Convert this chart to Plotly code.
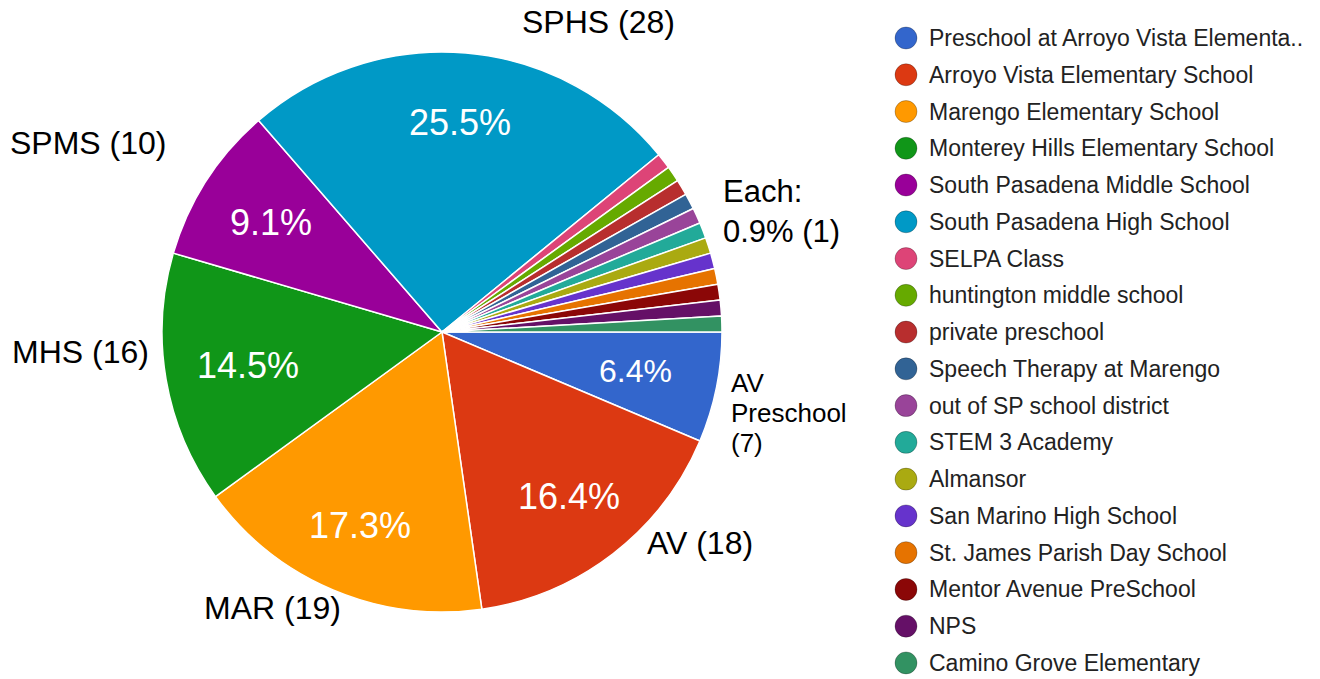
import math
import plotly.graph_objects as go

# ---- data ----
schools = [
    "Preschool at Arroyo Vista Elementa..",
    "Arroyo Vista Elementary School",
    "Marengo Elementary School",
    "Monterey Hills Elementary School",
    "South Pasadena Middle School",
    "South Pasadena High School",
    "SELPA Class",
    "huntington middle school",
    "private preschool",
    "Speech Therapy at Marengo",
    "out of SP school district",
    "STEM 3 Academy",
    "Almansor",
    "San Marino High School",
    "St. James Parish Day School",
    "Mentor Avenue PreSchool",
    "NPS",
    "Camino Grove Elementary",
]
counts = [7, 18, 19, 16, 10, 28, 1, 1, 1, 1, 1, 1, 1, 1, 1, 1, 1, 1]
short_names = ["AV Preschool", "AV", "MAR", "MHS", "SPMS", "SPHS"]
colors = [
    "#3366cc", "#dc3912", "#ff9900", "#109618", "#990099", "#0099c6",
    "#dd4477", "#66aa00", "#b82e2e", "#316395", "#994499", "#22aa99",
    "#aaaa11", "#6633cc", "#e67300", "#8b0707", "#651067", "#329262",
]

W, H = 1320, 679
FONT = "Liberation Sans, Arial, Helvetica, sans-serif"

# pie geometry (pixels)
cx, cy, R = 442, 332, 280

fig = go.Figure()
fig.add_trace(go.Pie(
    labels=schools,
    values=counts,
    sort=False,
    direction="clockwise",
    rotation=90,
    marker=dict(colors=colors, line=dict(color="white", width=1.5)),
    textinfo="none",
    showlegend=False,
    hoverinfo="label+value+percent",
    domain=dict(x=[(cx - R) / W, (cx + R) / W],
                y=[1 - (cy + R) / H, 1 - (cy - R) / H]),
))

annotations = []
shapes = []

# percentage labels inside the big slices, placed at each slice's mid-angle
total = sum(counts)
n_big = len(short_names)
cum = 0.0
for i, v in enumerate(counts):
    mid = (cum + v / 2) / total * 2 * math.pi  # clockwise from 3 o'clock
    cum += v
    if i >= n_big:
        continue
    # labels near the horizontal sit a little closer to the centre
    r = R * (0.75 - 0.05 * abs(math.cos(mid)) ** 4)
    px = cx + r * math.cos(mid)
    py = cy + r * math.sin(mid)
    size = 32 if v / total < 0.08 else 36
    annotations.append(dict(
        x=px / W, y=1 - py / H, xref="paper", yref="paper",
        text=f"{v / total * 100:.1f}%", showarrow=False,
        xanchor="center", yanchor="middle",
        font=dict(size=size, color="white", family=FONT)))

# callout labels (built from data)
callouts = {
    "SPHS": (598, 22),
    "SPMS": (88, 143),
    "MHS": (80, 352),
    "MAR": (272, 608),
    "AV": (700, 543),
}
for name, v in zip(short_names, counts):
    if name in callouts:
        x, y = callouts[name]
        annotations.append(dict(
            x=x / W, y=1 - y / H, xref="paper", yref="paper",
            text=f"{name} ({v})", showarrow=False, xanchor="center", yanchor="middle",
            font=dict(size=32, color="black", family=FONT)))

# AV Preschool callout, stacked lines
avp_lines = ["AV", "Preschool", f"({counts[0]})"]
for i, line in enumerate(avp_lines):
    annotations.append(dict(
        x=729 / W, y=1 - (383 + 30 * i) / H, xref="paper", yref="paper",
        text=line, showarrow=False, xanchor="left", yanchor="middle",
        font=dict(size=26, color="black", family=FONT)))

# "Each" callout for the small slices
small_val = counts[-1]
small_pct = small_val / total * 100
each_lines = ["Each:", f"{small_pct:.1f}% ({small_val})"]
for i, line in enumerate(each_lines):
    annotations.append(dict(
        x=721 / W, y=1 - (191 + 40 * i) / H, xref="paper", yref="paper",
        text=line, showarrow=False, xanchor="left", yanchor="middle",
        font=dict(size=31, color="black", family=FONT)))

# custom legend with circle markers
leg_x_marker, leg_x_text, leg_y0, leg_dy = 906, 927, 38, 36.76
for i, (name, col) in enumerate(zip(schools, colors)):
    yc = leg_y0 + i * leg_dy
    shapes.append(dict(
        type="circle", xref="paper", yref="paper",
        xsizemode="pixel", ysizemode="pixel",
        xanchor=leg_x_marker / W, yanchor=1 - yc / H,
        x0=-11, x1=11, y0=-11, y1=11,
        fillcolor=col, line=dict(color="rgba(0,0,0,0.25)", width=1)))
    annotations.append(dict(
        x=leg_x_text / W, y=1 - yc / H, xref="paper", yref="paper",
        text=name, showarrow=False, xanchor="left", yanchor="middle",
        font=dict(size=23, color="#222222", family=FONT)))

fig.update_layout(
    width=W, height=H,
    margin=dict(l=0, r=0, t=0, b=0),
    paper_bgcolor="white",
    plot_bgcolor="white",
    annotations=annotations,
    shapes=shapes,
)

fig.write_html("out.html",
               config={"displayModeBar": False},
               post_script="document.body.style.margin='0';document.body.style.overflow='hidden';")
